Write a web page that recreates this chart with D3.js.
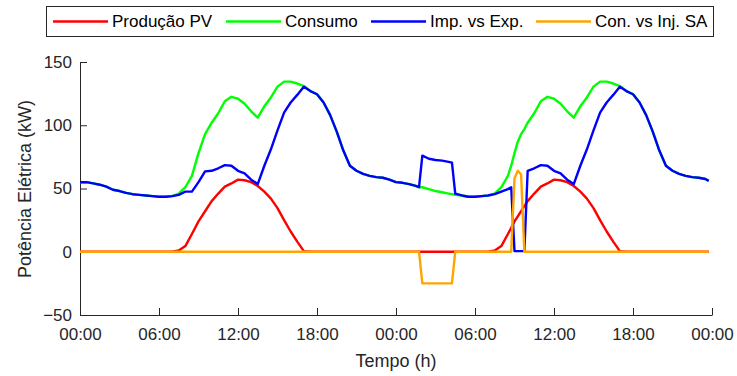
<!DOCTYPE html>
<html><head><meta charset="utf-8">
<script src="https://cdn.jsdelivr.net/npm/d3@7"></script>
<style>body{margin:0;background:#fff}svg{display:block}</style>
</head><body><svg id="c" width="737" height="376"></svg>
<script>
const hours = [
  0,0.5,1,1.5,2,2.5,3,3.5,4,4.5,5,5.5,6,6.5,7,7.5,8,8.5,9,9.5,10,10.5,11,11.5,
  12,12.5,13,13.5,14,14.5,15,15.5,16,16.5,17,17.5,18,18.5,19,19.5,20,20.5,21,21.5,22,22.5,23,23.5,
  24,24.5,25,25.5,25.75,26,26.5,27,27.5,28,28.25,28.5,
  29,29.5,30,30.5,31,31.5,32,32.5,32.75,33,33.25,33.5,33.75,34,
  34.5,35,35.5,36,36.5,37,37.5,38,38.5,39,39.5,40,40.5,41,41.5,42,42.5,43,43.5,44,44.5,45,45.5,46,46.5,47,47.5,47.75
];
const producaoPV = [
  0,0,0,0,0,0,0,0,0,0,0,0,0,0,0,1,4.5,14,24,32,40,46,51.5,54,
  57,56.5,55,52,47.5,42,34.5,25,16,8,0.5,0,0,0,0,0,0,0,0,0,0,0,0,0,
  0,0,0,0,0,0,0,0,0,0,0,0,
  0,0,0,0,0,1,4.5,14,19,24,28,32,36,40,
  46,51.5,54,57,56.5,55,52,47.5,42,34.5,25,16,8,0.5,0,0,0,0,0,0,0,0,0,0,0,0,0,0
];
const consumo = [
  55,55,54,53,51.5,49,48,46.5,45.5,45,44.5,44,43.5,43.5,44,46,51,60,78,93,102,109.5,119,122.5,
  121,117,111,106,115,122,130.5,134.5,134.5,133,131,127,124.5,118,108,95,80,68,64,61.5,60,59,58.5,57,
  55,54.5,53.5,52,51,51,49.5,48,47,46,45.5,45,
  44.5,43.5,43.5,44,44.5,46,51,60,68,78,87,93,97,102,
  109.5,119,122.5,121,117,111,106,115,122,130.5,134.5,134.5,133,131,127,124.5,118,108,95,80,68,64,61.5,60,59,58.5,57.5,56
];
const impVsExp = [
  55,55,54,53,51.5,49,48,46.5,45.5,45,44.5,44,43.5,43.5,44,45,47.5,47.5,55,63.5,64,66,68.5,68,
  64,62,57,53.5,68,81,96,110,118,124,130.5,127,124.5,118,108,95,80,68,64,61.5,60,59,58.5,57,
  55,54.5,53.5,52,51,76,73.5,72.5,72,71,70.5,46,
  44.5,43.5,43.5,44,44.5,45.5,47.5,49.5,51,0.5,0.5,0.5,0.5,64,
  66,68.5,68,64,62,57,53.5,68,81,96,110,118,124,130.5,127,124.5,118,108,95,80,68,64,61.5,60,59,58.5,57.5,56
];
const conVsInjSA = [
  0,0,0,0,0,0,0,0,0,0,0,0,0,0,0,0,0,0,0,0,0,0,0,0,
  0,0,0,0,0,0,0,0,0,0,0,0,0,0,0,0,0,0,0,0,0,0,0,0,
  0,0,0,0,0,-25,-25,-25,-25,-25,-25,0,
  0,0,0,0,0,0,0,0,0,58,64,61,0,0,
  0,0,0,0,0,0,0,0,0,0,0,0,0,0,0,0,0,0,0,0,0,0,0,0,0,0,0,0
];
const seriesNames = ["Produção PV","Consumo","Imp. vs Exp.","Con. vs Inj. SA"];
const seriesColors = ["#ff0000","#00ff00","#0000ff","#ffa500"];
const xTickHours = [0,6,12,18,24,30,36,42,48];
const xTickLabels = ["00:00","06:00","12:00","18:00","00:00","06:00","12:00","18:00","00:00"];
const yTicks = [-50,0,50,100,150];

const seriesValues = [producaoPV, consumo, impVsExp, conVsInjSA];
const FONT = "'Liberation Sans', Arial, sans-serif";
const AX = "#262626";
const svg = d3.select("#c");
const x = d3.scaleLinear().domain([0,48]).range([80,712]);
const y = d3.scaleLinear().domain([-50,150]).range([315,62]);

// axes
const gx = svg.append("g").attr("transform","translate(0,315)")
  .call(d3.axisBottom(x).tickValues(xTickHours).tickFormat((d,i)=>xTickLabels[i])
    .tickSizeInner(-7).tickSizeOuter(0).tickPadding(13));
const gy = svg.append("g").attr("transform","translate(80,0)")
  .call(d3.axisLeft(y).tickValues(yTicks).tickSizeInner(-7).tickSizeOuter(0).tickPadding(8));
[gx,gy].forEach(g=>{
  g.selectAll("path,line").attr("stroke",AX).attr("stroke-width",1);
  g.selectAll("text").attr("fill",AX).style("font-family",FONT).style("font-size","17px");
});

// lines
const line = d3.line().x((d,i)=>x(hours[i])).y(d=>y(d));
seriesValues.forEach((vals,k)=>{
  svg.append("path").datum(vals).attr("d",line)
    .attr("fill","none").attr("stroke",seriesColors[k]).attr("stroke-width",2.4)
    .attr("stroke-linejoin","round");
});

// axis titles
svg.append("text").attr("x",396).attr("y",367).attr("text-anchor","middle")
  .attr("fill",AX).style("font-family",FONT).style("font-size","18px").text("Tempo (h)");
svg.append("text").attr("transform","translate(31,189) rotate(-90)").attr("text-anchor","middle")
  .attr("fill",AX).style("font-family",FONT).style("font-size","18px").text("Potência Elétrica (kW)");

// legend
const leg = svg.append("g");
leg.append("rect").attr("x",46.5).attr("y",6.5).attr("width",667).attr("height",30)
  .attr("fill","#fff").attr("stroke",AX).attr("stroke-width",1);
const legX = [53,226,371,536];
seriesNames.forEach((n,k)=>{
  leg.append("line").attr("x1",legX[k]).attr("x2",legX[k]+55).attr("y1",21.5).attr("y2",21.5)
    .attr("stroke",seriesColors[k]).attr("stroke-width",2.4);
  leg.append("text").attr("x",legX[k]+59).attr("y",21.5).attr("dy","0.35em")
    .attr("fill","#000").style("font-family",FONT).style("font-size","17px").text(n);
});
</script></body></html>
